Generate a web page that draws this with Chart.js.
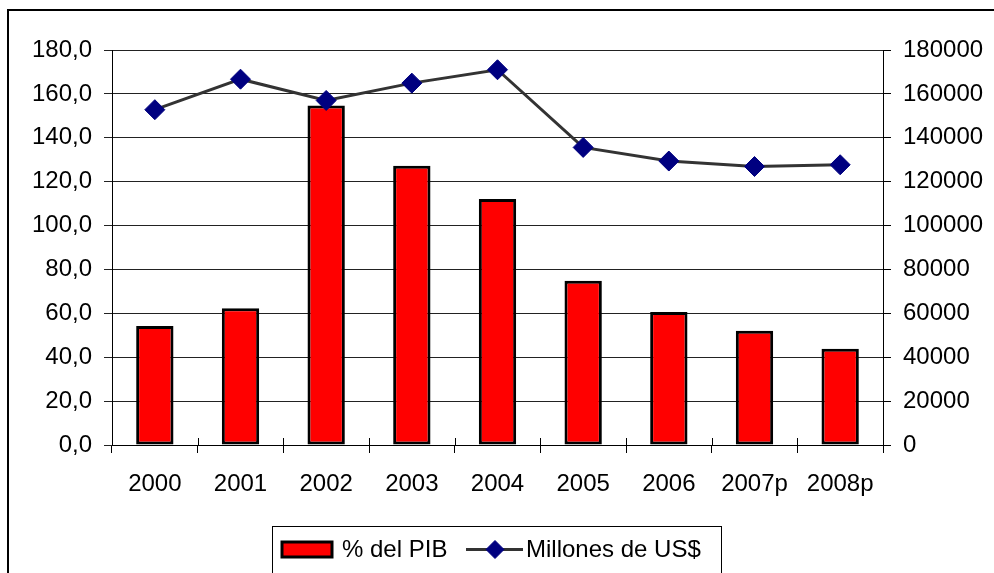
<!doctype html>
<html lang="es">
<head>
<meta charset="UTF-8" />
<title>Deuda pública</title>
<script src="https://cdn.jsdelivr.net/npm/chart.js@4.4.4/dist/chart.umd.min.js"></script>
<style>
  html, body { margin: 0; padding: 0; background: #fff; }
  #wrap { width: 994px; height: 573px; }
</style>
</head>
<body>
<div id="wrap"><canvas id="chart" width="994" height="573"></canvas></div>
<script>
// data
const years = ['2000', '2001', '2002', '2003', '2004', '2005', '2006', '2007p', '2008p'];
const pctPib = [54.2, 62.3, 154.7, 127.2, 112.1, 74.9, 60.6, 52.1, 43.9];
const millonesUsd = [152800, 166700, 157000, 164900, 171000, 135600, 129400, 126900, 127700];
const seriesLabels = ['% del PIB', 'Millones de US$'];

const FONT = 'Arial, "Liberation Sans", sans-serif';
const plotLeft = 112, plotRight = 883, plotTop = 50, plotBottom = 445;

// outer frame, crossing tick marks and the boxed legend
const framePlugin = {
  id: 'frame',
  beforeDraw(chart) {
    const ctx = chart.ctx;
    ctx.save();
    ctx.fillStyle = '#fff';
    ctx.fillRect(0, 0, chart.width, chart.height);
    ctx.restore();
  },
  afterDraw(chart) {
    const ctx = chart.ctx;
    const xs = chart.scales.x;
    const n = chart.data.labels.length;
    ctx.save();
    // upper half of the category ticks
    ctx.strokeStyle = '#000';
    ctx.lineWidth = 1;
    for (let i = 0; i <= n; i++) {
      const x = Math.round(xs.left + i * (xs.right - xs.left) / n) + 0.5;
      ctx.beginPath();
      ctx.moveTo(x, xs.top - 7);
      ctx.lineTo(x, xs.top);
      ctx.stroke();
    }
    // chart frame (cut off on the right and bottom)
    ctx.lineWidth = 2;
    ctx.strokeRect(8, 10, 1000, 600);

    // legend
    const bar = chart.data.datasets.find((d) => d.type === 'bar');
    const line = chart.data.datasets.find((d) => d.type === 'line');
    ctx.lineWidth = 1;
    ctx.strokeStyle = '#000';
    ctx.fillStyle = '#fff';
    ctx.fillRect(272.5, 526.5, 449, 50);
    ctx.strokeRect(272.5, 526.5, 449, 50);

    ctx.fillStyle = bar.backgroundColor;
    ctx.fillRect(282, 542, 50, 15);
    ctx.lineWidth = 3;
    ctx.strokeStyle = bar.borderColor;
    ctx.strokeRect(282, 542, 50, 15);

    ctx.font = '24px ' + FONT;
    ctx.fillStyle = '#000';
    ctx.textBaseline = 'alphabetic';
    ctx.fillText(bar.label, 342, 557);

    ctx.strokeStyle = line.borderColor;
    ctx.lineWidth = 3;
    ctx.beginPath();
    ctx.moveTo(466, 549.5);
    ctx.lineTo(523, 549.5);
    ctx.stroke();
    ctx.fillStyle = line.pointBackgroundColor;
    ctx.strokeStyle = line.pointBorderColor;
    ctx.lineWidth = 1;
    Chart.helpers.drawPoint(ctx, { pointStyle: 'rectRot', radius: 9, rotation: 0, borderWidth: 1 }, 495, 549.5);

    ctx.fillStyle = '#000';
    ctx.fillText(line.label, 526, 557);
    ctx.restore();
  }
};

const tickFont = { family: FONT, size: 24 };

new Chart(document.getElementById('chart'), {
  data: {
    labels: years,
    datasets: [
      {
        type: 'line',
        label: seriesLabels[1],
        data: millonesUsd,
        yAxisID: 'y2',
        order: 1,
        borderColor: '#333333',
        borderWidth: 3,
        tension: 0,
        pointStyle: 'rectRot',
        pointRadius: 10,
        pointBackgroundColor: '#000080',
        pointBorderColor: '#000080',
        pointBorderWidth: 1
      },
      {
        type: 'bar',
        label: seriesLabels[0],
        data: pctPib,
        yAxisID: 'y',
        order: 2,
        backgroundColor: '#ff0000',
        borderColor: '#000000',
        borderWidth: 3,
        borderSkipped: false,
        barPercentage: 0.436,
        categoryPercentage: 1
      }
    ]
  },
  options: {
    responsive: false,
    animation: false,
    events: [],
    layout: { padding: { top: plotTop, left: 0, right: 0, bottom: 0 } },
    plugins: {
      legend: { display: false },
      tooltip: { enabled: false }
    },
    scales: {
      x: {
        offset: true,
        afterFit: (s) => { s.height = 573 - plotBottom; },
        grid: { offset: true, drawOnChartArea: false, drawTicks: true, tickLength: 8, color: '#000' },
        border: { color: '#000', width: 1 },
        ticks: { font: tickFont, color: '#000', padding: 17, maxRotation: 0, autoSkip: false }
      },
      y: {
        position: 'left',
        min: 0,
        max: 180,
        afterFit: (s) => { s.width = plotLeft; },
        grid: { color: '#222', lineWidth: 1, tickLength: 8 },
        border: { color: '#000', width: 1 },
        ticks: {
          stepSize: 20,
          font: tickFont,
          color: '#000',
          padding: 12,
          callback: (v) => v.toFixed(1).replace('.', ',')
        }
      },
      y2: {
        position: 'right',
        min: 0,
        max: 180000,
        afterFit: (s) => { s.width = 994 - plotRight; },
        grid: { drawOnChartArea: false, color: '#000', tickLength: 8 },
        border: { color: '#000', width: 1 },
        ticks: {
          stepSize: 20000,
          font: tickFont,
          color: '#000',
          padding: 12,
          callback: (v) => String(v)
        }
      }
    }
  },
  plugins: [framePlugin]
});
</script>
</body>
</html>
